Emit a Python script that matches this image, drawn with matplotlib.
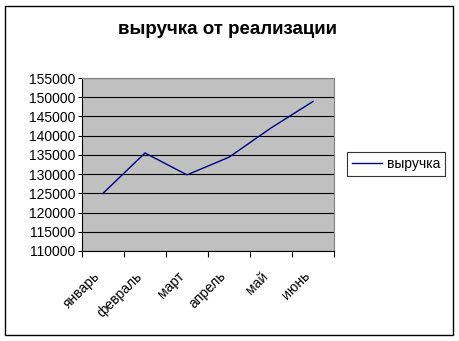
import matplotlib
matplotlib.use("Agg")
import matplotlib.pyplot as plt
import matplotlib.transforms as mtransforms
from matplotlib.patches import Rectangle

months = ["январь", "февраль", "март", "апрель", "май", "июнь"]
revenue = [125000, 135500, 129800, 134400, 142000, 148900]
yticks = list(range(110000, 155001, 5000))
series_name = "выручка"
title = "выручка от реализации"

plt.rcParams['font.family'] = ['Liberation Sans', 'DejaVu Sans']

fig = plt.figure(figsize=(4.59, 3.41), dpi=100)
fig.patches.append(Rectangle((5/459, 6/341), 448/459, 329/341, transform=fig.transFigure,
                             fill=False, edgecolor='black', linewidth=1))

ax = fig.add_axes([82/459, 90/341, 252/459, 173/341])
ax.set_facecolor('#C0C0C0')
x = [i + 0.5 for i in range(len(months))]
line, = ax.plot(x, revenue, color='#000080', linewidth=1, label=series_name)
ax.set_xlim(0, len(months))
ax.set_ylim(110000, 155000)
ax.set_yticks(yticks)
ax.set_yticklabels([str(v) for v in yticks], fontsize=10)
ax.yaxis.grid(True, color='black', linewidth=0.8)
ax.set_axisbelow(True)
ax.set_xticks(range(len(months) + 1))
ax.set_xticklabels([])
ax.set_xticks(x, minor=True)
ax.set_xticklabels(months, minor=True, rotation=45, ha='right', va='top',
                   fontsize=10, rotation_mode='anchor')
ax.tick_params(axis='x', which='minor', length=0, pad=13)
ax.tick_params(axis='x', which='major', length=4, direction='out', color='black')
ax.tick_params(axis='y', length=3, direction='out', pad=2)
offset = mtransforms.ScaledTranslation(-10/100, 0, fig.dpi_scale_trans)
for lab in ax.get_xticklabels(minor=True):
    lab.set_transform(lab.get_transform() + offset)
for s in ['top', 'right']:
    ax.spines[s].set_color('#808080')
for s in ['left', 'bottom']:
    ax.spines[s].set_color('black')

fig.text(228/459, 1 - 30/341, title, ha='center', va='center', fontsize=13.5, fontweight='bold')

leg = fig.legend(handles=[line], loc='center left', bbox_to_anchor=(347/459, 1 - 164/341),
                 fontsize=10, frameon=True, fancybox=False, edgecolor='black',
                 handlelength=2.2, borderpad=0.35, handletextpad=0.3, borderaxespad=0)
leg.get_frame().set_linewidth(0.8)

fig.savefig("out.png", dpi=100)
